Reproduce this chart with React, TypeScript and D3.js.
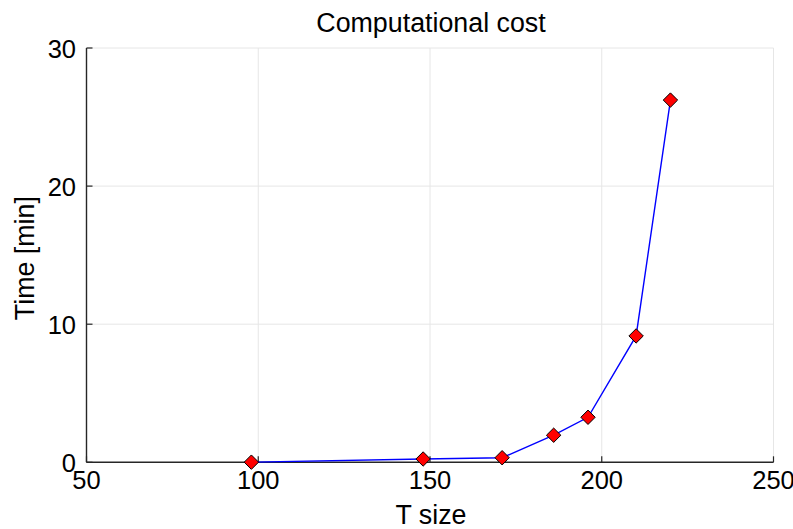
import React from "react";
import * as d3 from "d3";

const tSize = [98, 148, 171, 186, 196, 210, 220];
const timeMin = [0.01, 0.24, 0.33, 1.96, 3.26, 9.15, 26.23];
const xTicks = [50, 100, 150, 200, 250];
const yTicks = [0, 10, 20, 30];

const W = 793;
const H = 529;
const M = { left: 86.5, right: 773.5, top: 48, bottom: 462.3 };
const FONT = "'Liberation Sans', Arial, sans-serif";

export default function App() {
  const x = d3.scaleLinear().domain([50, 250]).range([M.left, M.right]);
  const y = d3.scaleLinear().domain([0, 30]).range([M.bottom, M.top]);
  const pts = tSize.map((t, i) => [x(t), y(timeMin[i])] as [number, number]);
  const line = d3.line()(pts) || "";
  const r = 7.2;
  return (
    <svg width={W} height={H} style={{ position: "absolute", left: 0, top: 0 }}>
      <rect width={W} height={H} fill="#fff" />
      {/* grid */}
      {xTicks.filter((t) => t !== 50).map((t) => (
        <line key={"gx" + t} x1={x(t)} x2={x(t)} y1={M.top} y2={M.bottom} stroke="#e6e6e6" strokeWidth={1} />
      ))}
      {yTicks.filter((t) => t !== 0).map((t) => (
        <line key={"gy" + t} x1={M.left} x2={M.right} y1={y(t)} y2={y(t)} stroke="#e6e6e6" strokeWidth={1} />
      ))}
      {/* axes */}
      <line x1={M.left} x2={M.left} y1={M.top} y2={M.bottom} stroke="#262626" strokeWidth={1.4} />
      <line x1={M.left} x2={M.right} y1={M.bottom} y2={M.bottom} stroke="#262626" strokeWidth={1.4} />
      {xTicks.map((t) => (
        <g key={"xt" + t}>
          <line x1={x(t)} x2={x(t)} y1={M.bottom} y2={M.bottom - 6} stroke="#262626" strokeWidth={1.2} />
          <text x={x(t)} y={489} textAnchor="middle" fontFamily={FONT} fontSize={25.5} fill="#000">{t}</text>
        </g>
      ))}
      {yTicks.map((t) => (
        <g key={"yt" + t}>
          <line x1={M.left} x2={M.left + 6} y1={y(t)} y2={y(t)} stroke="#262626" strokeWidth={1.2} />
          <text x={76} y={y(t) + 9.5} textAnchor="end" fontFamily={FONT} fontSize={25.5} fill="#000">{t}</text>
        </g>
      ))}
      {/* labels */}
      <text x={431} y={32} textAnchor="middle" fontFamily={FONT} fontSize={26.8} fill="#000">Computational cost</text>
      <text x={431} y={523.5} textAnchor="middle" fontFamily={FONT} fontSize={26.8} fill="#000">T size</text>
      <text transform={`translate(34,${(M.top + M.bottom) / 2 + 3}) rotate(-90)`} textAnchor="middle" fontFamily={FONT} fontSize={26.8} fill="#000">Time [min]</text>
      {/* series */}
      <path d={line} fill="none" stroke="#0000ff" strokeWidth={1.4} />
      {pts.map(([px, py], i) => (
        <path key={"m" + i} d={`M${px},${py - r}L${px + r},${py}L${px},${py + r}L${px - r},${py}Z`} fill="#ff0000" stroke="#000" strokeWidth={1} />
      ))}
    </svg>
  );
}
